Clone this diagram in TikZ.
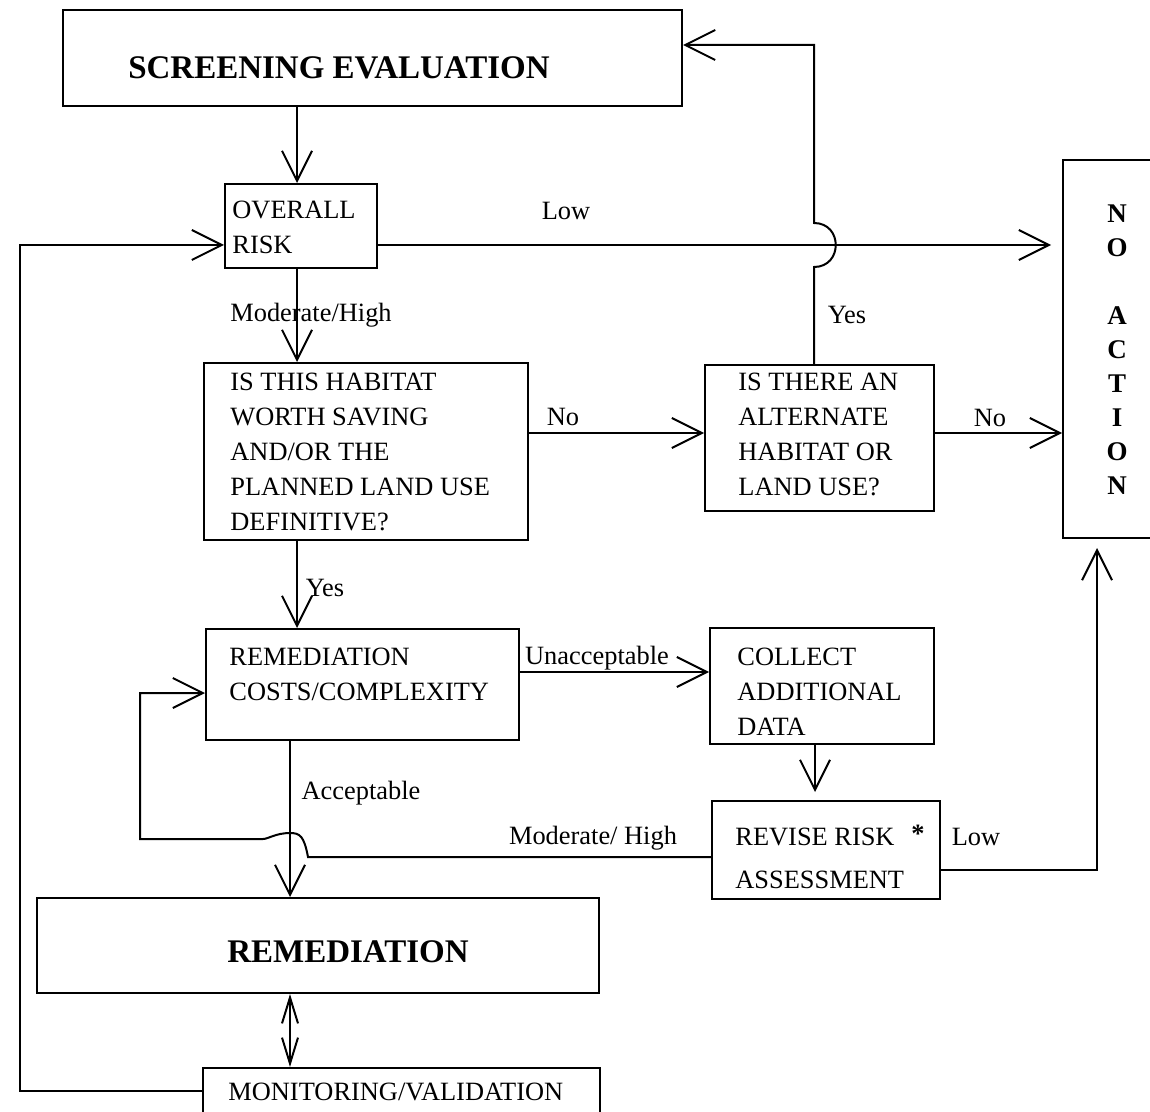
\documentclass[tikz,border=0pt]{standalone}
\usepackage{fontspec}
\setmainfont{Liberation Serif}
\usetikzlibrary{arrows.meta,fit,calc}
\begin{document}
\begin{tikzpicture}[x=0.5pt,y=-0.5pt,
  box/.style={draw,line width=1pt,inner sep=0pt,rectangle},
  txt/.style={inner sep=0pt,anchor=west,align=left,font=\fontsize{13.2}{17.5}\selectfont},
  lbl/.style={inner sep=0pt,font=\fontsize{13.2}{17.5}\selectfont},
  big/.style={inner sep=0pt,font=\fontsize{16.5}{20}\selectfont\bfseries},
  conn/.style={line width=1pt},
  arr/.style={conn,-{Straight Barb[length=15pt,width=15pt]}},
  darr/.style={conn,{Straight Barb[length=13pt,width=8pt]}-{Straight Barb[length=13pt,width=8pt]}},
]
\useasboundingbox (0,0) rectangle (1150,1112);
\fill[white] (0,0) rectangle (1150,1112);
\clip (0,0) rectangle (1150,1112);

% boxes
\node[box,fit={(63,10)(682,106)}] (screen) {};
\node[box,fit={(225,184)(377,268)}] (overall) {};
\node[box,fit={(204,363)(528,540)}] (habitat) {};
\node[box,fit={(705,365)(934,511)}] (alt) {};
\node[box,fit={(1063,160)(1170,538)}] (noaction) {};
\node[box,fit={(206,629)(519,740)}] (costs) {};
\node[box,fit={(710,628)(934,744)}] (collect) {};
\node[box,fit={(712,801)(940,899)}] (revise) {};
\node[box,fit={(37,898)(599,993)}] (remed) {};
\node[box,fit={(203,1068)(600,1114)}] (monitor) {};

% box texts
\node[big] (t-screen) at (339,68) {SCREENING EVALUATION};
\node[txt] (t-overall) at (232,227.5) {OVERALL\\RISK};
\node[txt] (t-habitat) at (230,452) {IS THIS HABITAT\\WORTH SAVING\\AND/OR THE\\PLANNED LAND USE\\DEFINITIVE?};
\node[txt] (t-alt) at (738,434) {IS THERE AN\\ALTERNATE\\HABITAT OR\\LAND USE?};
\node[inner sep=0pt,align=center,font=\fontsize{13.5}{17}\selectfont\bfseries] (t-noaction) at (1117,350) {N\\O\\[17pt]A\\C\\T\\I\\O\\N};
\node[txt] (t-costs) at (229,674.5) {REMEDIATION\\COSTS/COMPLEXITY};
\node[txt] (t-collect) at (737,692) {COLLECT\\ADDITIONAL\\DATA};
\node[txt] (t-revise) at (735,858) {REVISE RISK\\[4pt]ASSESSMENT};
\node[inner sep=0pt,font=\fontsize{13.2}{17.5}\selectfont\bfseries] (t-star) at (918,834) {*};
\node[big] (t-remed) at (348,952) {REMEDIATION};
\node[txt] (t-monitor) at (228,1092) {MONITORING/VALIDATION};

% labels
\node[lbl] (l-low1) at (566,211) {Low};
\node[lbl] (l-modhigh1) at (311,315) {Moderate/High};
\node[lbl] (l-no1) at (563,417) {No};
\node[lbl] (l-yes1) at (847,315) {Yes};
\node[lbl] (l-no2) at (990,418) {No};
\node[lbl] (l-yes2) at (325,588) {Yes};
\node[lbl] (l-unacc) at (597,658) {Unacceptable};
\node[lbl] (l-acc) at (361,793) {Acceptable};
\node[lbl] (l-modhigh2) at (593,838) {Moderate/ High};
\node[lbl] (l-low2) at (976,837) {Low};

% helper coordinates
\coordinate (yL) at (0,245);
\coordinate (yNo) at (0,433);
\coordinate (yUn) at (0,672);
\coordinate (yTop) at (0,45);
\coordinate (yRev) at (0,870);
\coordinate (yMod) at (0,857);
\coordinate (yLoop) at (0,693);
\coordinate (xYes) at (814,0);
\coordinate (xCol) at (297,0);
\coordinate (xAcc) at (290,0);
\coordinate (xFb) at (20,0);
\coordinate (xLow) at (1097,0);
\coordinate (xDat) at (815,0);
\coordinate (xLoop) at (140,0);
\coordinate (bA) at (814,267);
\coordinate (bB) at (814,223);
\coordinate (hA) at (308,857);
\coordinate (hB) at (290,833);
\coordinate (hC) at (263,839);

% connectors
\draw[arr] (screen.south -| xCol) -- (overall.north -| xCol);
\draw[arr,shorten >=5.5pt] (overall.east |- yL) -- (noaction.west |- yL);
\draw[arr] (monitor.west) -- (xFb |- monitor.west) -- (xFb |- yL) -- (overall.west |- yL);
\draw[arr] (overall.south -| xCol) -- (habitat.north -| xCol);
\draw[arr] (habitat.east |- yNo) -- (alt.west |- yNo);
\draw[arr] (alt.east |- yNo) -- (noaction.west |- yNo);
\draw[arr] (alt.north -| xYes) -- (bA) .. controls +(29,0) and +(29,0) .. (bB) -- (xYes |- yTop) -- (screen.east |- yTop);
\draw[arr] (habitat.south -| xCol) -- (costs.north -| xCol);
\draw[arr] (costs.east |- yUn) -- (collect.west |- yUn);
\draw[arr,shorten >=4pt] (collect.south -| xDat) -- (revise.north -| xDat);
\draw[arr,shorten >=4.5pt] (revise.east |- yRev) -- (xLow |- yRev) -- (noaction.south -| xLow);
\draw[arr] (revise.west |- yMod) -- (hA) .. controls +(-4,-21) and +(10,0) .. (hB) .. controls +(-14,0) and +(5,0) .. (hC) -- (xLoop |- hC) -- (xLoop |- yLoop) -- (costs.west |- yLoop);
\draw[arr] (costs.south -| xAcc) -- (remed.north -| xAcc);
\draw[darr] (remed.south -| xAcc) -- (monitor.north -| xAcc);
\end{tikzpicture}
\end{document}
